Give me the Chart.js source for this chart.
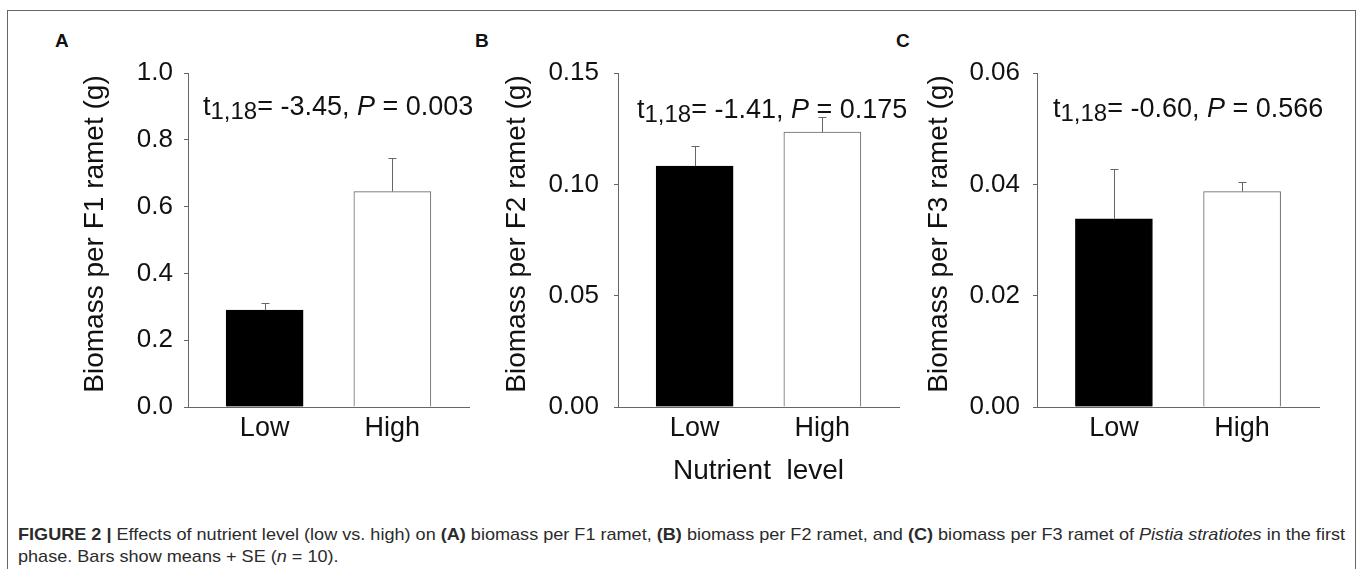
<!DOCTYPE html>
<html>
<head>
<meta charset="utf-8">
<script src="https://cdn.jsdelivr.net/npm/chart.js@4.4.0/dist/chart.umd.min.js"></script>
<style>
  html, body { margin: 0; padding: 0; background: #fff; }
  body { width: 1360px; height: 569px; position: relative; overflow: hidden; font-family: "Liberation Sans", Arial, sans-serif; }
  #frame { position: absolute; left: 7px; top: 10px; width: 1347px; height: 600px; border: 1px solid #666; border-bottom: none; }
  canvas { position: absolute; top: 0; }
  .tag { position: absolute; font-weight: bold; font-size: 19px; line-height: 19px; color: #111; }
  #caption { position: absolute; left: 18px; top: 524px; font-family: "Liberation Sans Narrow", "Liberation Sans", Arial, sans-serif;
             font-size: 17px; line-height: 22px; color: #2b2b2b; white-space: nowrap; transform-origin: 0 0; }
</style>
</head>
<body>
<div id="frame"></div>
<div class="tag" style="left:55px;top:31px">A</div>
<div class="tag" style="left:475px;top:31px">B</div>
<div class="tag" style="left:896px;top:31px">C</div>

<canvas id="chartA" width="480" height="500" style="left:0px"></canvas>
<canvas id="chartB" width="480" height="500" style="left:430px"></canvas>
<canvas id="chartC" width="500" height="500" style="left:850px"></canvas>

<div id="caption"><div><b>FIGURE 2 |</b> Effects of nutrient level (low vs. high) on <b>(A)</b> biomass per F1 ramet, <b>(B)</b> biomass per F2 ramet, and <b>(C)</b> biomass per F3 ramet of <i>Pistia stratiotes</i> in the first</div><div>phase. Bars show means + SE (<i>n</i> = 10).</div></div>

<script>
// nutrient levels
const categories = ['Low', 'High'];

// means and standard errors
const f1Means = [0.290, 0.645];
const f1SE    = [0.021, 0.100];
const f2Means = [0.1082, 0.1235];
const f2SE    = [0.0090, 0.0068];
const f3Means = [0.0338, 0.0387];
const f3SE    = [0.0090, 0.0017];

// y tick labels
const f1Ticks = [0, 0.2, 0.4, 0.6, 0.8, 1.0];
const f2Ticks = [0, 0.05, 0.10, 0.15];
const f3Ticks = [0, 0.02, 0.04, 0.06];

// t-test results
const tValues = ['-3.45', '-1.41', '-0.60'];
const pValues = ['0.003', '0.175', '0.566'];

const yTitles = ['Biomass per F1 ramet (g)', 'Biomass per F2 ramet (g)', 'Biomass per F3 ramet (g)'];
const xTitle = 'Nutrient  level';

const FONT = '"Liberation Sans", Arial, sans-serif';
const AXIS = '#666';

function makePanel(id, opt) {
  const extras = {
    id: 'extras',
    afterDatasetsDraw(chart) {
      const ctx = chart.ctx;
      const y = chart.scales.y;
      const area = chart.chartArea;
      const meta = chart.getDatasetMeta(0);
      ctx.save();
      // error bars (mean + SE)
      ctx.strokeStyle = AXIS;
      ctx.lineWidth = 1;
      meta.data.forEach((bar, i) => {
        const x = Math.round(bar.x) + 0.5;
        const top = Math.round(y.getPixelForValue(opt.means[i] + opt.se[i])) + 0.5;
        ctx.beginPath();
        ctx.moveTo(x, bar.y);
        ctx.lineTo(x, top);
        ctx.moveTo(x - 4, top);
        ctx.lineTo(x + 4, top);
        ctx.stroke();
      });

      // y axis title, sits a little above the middle of the axis
      ctx.fillStyle = '#111';
      ctx.save();
      ctx.translate(opt.titleX, (area.top + area.bottom) / 2 - 6);
      ctx.rotate(-Math.PI / 2);
      ctx.font = '28px ' + FONT;
      ctx.textAlign = 'center';
      ctx.textBaseline = 'middle';
      ctx.fillText(opt.yTitle, 0, 0);
      ctx.restore();

      // statistics text
      let tx = area.left + opt.statDx;
      const ty = area.top + opt.statDy;
      ctx.textAlign = 'left';
      ctx.textBaseline = 'alphabetic';
      const put = (txt, font, dy) => {
        ctx.font = font;
        ctx.fillText(txt, tx, ty + dy);
        tx += ctx.measureText(txt).width;
      };
      put('t', '27px ' + FONT, 0);
      put('1,18', '24px ' + FONT, 4);
      put('= ' + opt.t + ', ', '27px ' + FONT, 0);
      put('P', 'italic 27px ' + FONT, 0);
      put(' = ' + opt.p, '27px ' + FONT, 0);
      ctx.restore();
    }
  };

  const canvas = document.getElementById(id);
  return new Chart(canvas.getContext('2d'), {
    type: 'bar',
    data: {
      datasets: [{
        data: categories.map((c, i) => ({ x: i + 1, y: opt.means[i] })),
        backgroundColor: ['#000000', '#ffffff'],
        borderColor: ['#000000', AXIS],
        borderWidth: 1,
        borderSkipped: 'bottom',
        barThickness: 77
      }]
    },
    options: {
      responsive: false,
      maintainAspectRatio: false,
      animation: false,
      layout: { padding: { left: 0, top: 73, right: opt.padRight, bottom: 3 } },
      plugins: { legend: { display: false }, tooltip: { enabled: false } },
      scales: {
        x: {
          type: 'linear',
          offset: false,
          min: 0.4,
          max: 2.6,
          afterFit: s => { s.height = 90; },
          afterBuildTicks: s => { s.ticks = categories.map((c, i) => ({ value: i + 1 })); },
          grid: { display: false, drawTicks: false, offset: false },
          border: { display: true, color: AXIS, width: 1 },
          ticks: {
            padding: 5,
            color: '#111',
            font: { family: FONT, size: 27 },
            callback: v => categories[v - 1]
          },
          title: {
            display: !!opt.xTitle,
            text: opt.xTitle || '',
            color: '#111',
            font: { family: FONT, size: 28 },
            padding: { top: 0, bottom: 9 }
          }
        },
        y: {
          min: 0,
          max: opt.ticks[opt.ticks.length - 1],
          afterFit: s => { s.width = opt.axisWidth; },
          afterBuildTicks: s => { s.ticks = opt.ticks.map(v => ({ value: v })); },
          grid: { drawOnChartArea: false, drawTicks: true, tickLength: 4, color: AXIS },
          border: { display: true, color: AXIS, width: 1 },
          ticks: {
            padding: opt.tickPad,
            color: '#111',
            font: { family: FONT, size: 26 },
            callback: v => Number(v).toFixed(opt.decimals)
          }
        }
      }
    },
    plugins: [extras]
  });
}

makePanel('chartA', {
  means: f1Means, se: f1SE, ticks: f1Ticks, decimals: 1, t: tValues[0], p: pValues[0],
  yTitle: yTitles[0], axisWidth: 188, padRight: 11, tickPad: 11, titleX: 95, statDx: 15, statDy: 42
});
makePanel('chartB', {
  means: f2Means, se: f2SE, ticks: f2Ticks, decimals: 2, t: tValues[1], p: pValues[1],
  yTitle: yTitles[1], xTitle: xTitle, axisWidth: 188, padRight: 11, tickPad: 15, titleX: 87, statDx: 19, statDy: 45
});
makePanel('chartC', {
  means: f3Means, se: f3SE, ticks: f3Ticks, decimals: 2, t: tValues[2], p: pValues[2],
  yTitle: yTitles[2], axisWidth: 187, padRight: 31, tickPad: 13, titleX: 89, statDx: 16, statDy: 44
});

// squeeze the caption so that its first line spans the frame like in the figure
const cap = document.getElementById('caption');
const w = cap.getBoundingClientRect().width;
cap.style.transform = 'scaleX(' + (1327 / w) + ')';
</script>
</body>
</html>
